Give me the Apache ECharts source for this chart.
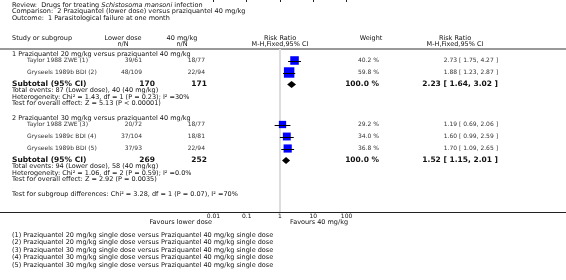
<!DOCTYPE html>
<html>
<head>
<meta charset="utf-8">
<script src="https://cdn.jsdelivr.net/npm/echarts@6/dist/echarts.min.js"></script>
<style>
  html, body { margin: 0; padding: 0; background: #fff; }
  #chart { width: 566px; height: 280px; }
</style>
</head>
<body>
<div id="chart"></div>
<script>
// --- data ---
const studyNames = ['Taylor 1988 ZWE (1)', 'Gryseels 1989b BDI (2)', 'Taylor 1988 ZWE (3)', 'Gryseels 1989c BDI (4)', 'Gryseels 1989b BDI (5)'];
const lowEvents = [39, 48, 20, 37, 37];
const lowTotal = [61, 109, 72, 104, 93];
const ctrlEvents = [18, 22, 18, 18, 22];
const ctrlTotal = [77, 94, 77, 81, 94];
const weights = [40.2, 59.8, 29.2, 34.0, 36.8];
const rr = [2.73, 1.88, 1.19, 1.60, 1.70];
const rrLow = [1.75, 1.23, 0.69, 0.99, 1.09];
const rrHigh = [4.27, 2.87, 2.06, 2.59, 2.65];

const groupTitles = ['1 Praziquantel 20 mg/kg versus praziquantel 40 mg/kg', '2 Praziquantel 30 mg/kg versus praziquantel 40 mg/kg'];
const subLowTotal = [170, 269];
const subCtrlTotal = [171, 252];
const subWeight = [100.0, 100.0];
const subRR = [2.23, 1.52];
const subLow = [1.64, 1.15];
const subHigh = [3.02, 2.01];
const subEventsLow = [87, 94];
const subEventsCtrl = [40, 58];
const hetText = ['Heterogeneity: Chi² = 1.43, df = 1 (P = 0.23); I² =30%', 'Heterogeneity: Chi² = 1.06, df = 2 (P = 0.59); I² =0.0%'];
const overallText = ['Test for overall effect: Z = 5.13 (P < 0.00001)', 'Test for overall effect: Z = 2.92 (P = 0.0035)'];
const subgroupDiff = 'Test for subgroup differences: Chi² = 3.28, df = 1 (P = 0.07), I² =70%';
const tickValues = [0.01, 0.1, 1, 10, 100];
const footnotes = [
  '(1) Praziquantel 20 mg/kg single dose versus Praziquantel 40 mg/kg single dose',
  '(2) Praziquantel 20 mg/kg single dose versus Praziquantel 40 mg/kg single dose',
  '(3) Praziquantel 30 mg/kg single dose versus Praziquantel 40 mg/kg single dose',
  '(4) Praziquantel 30 mg/kg single dose versus Praziquantel 40 mg/kg single dose',
  '(5) Praziquantel 30 mg/kg single dose versus Praziquantel 40 mg/kg single dose'
];

// --- layout (pixel rows) ---
const studyRows = [60.5, 72.5, 124.5, 136.5, 148.5];
const groupRows = [54.5, 118.3];
const subRows = [84.5, 160.5];
const AXIS_Y = 212;
const RULE_Y = 49;
const FONT = 'DejaVu Sans';
const LEFT = 12;

const fmt2 = v => v.toFixed(2);
const ciText = (m, l, h) => `${fmt2(m)} [ ${fmt2(l)}, ${fmt2(h)} ]`;

function txt(x, y, s, o) {
  o = o || {};
  return {
    type: 'text', x: x, y: y, silent: true,
    style: {
      text: s, fill: o.color || '#111', fontSize: o.size || 6.5, fontFamily: FONT,
      fontWeight: o.bold ? 'bold' : 'normal',
      align: o.align || 'left', verticalAlign: 'middle',
      textAlign: o.align || 'left', textVerticalAlign: 'middle',
      rich: o.rich
    }
  };
}

const texts = [];
// title block
texts.push(txt(LEFT, 5, 'Review:  Drugs for treating {i|Schistosoma mansoni} infection', {
  rich: { i: { fontStyle: 'italic', fontSize: 6.5, fontFamily: FONT, fill: '#111' } }
}));
texts.push(txt(LEFT, 11.5, 'Comparison:  2 Praziquantel (lower dose) versus praziquantel 40 mg/kg'));
texts.push(txt(LEFT, 18, 'Outcome:  1 Parasitological failure at one month'));

// column headers
texts.push(txt(LEFT, 38, 'Study or subgroup'));
texts.push(txt(123, 38, 'Lower dose', { align: 'center' }));
texts.push(txt(123, 44.5, 'n/N', { align: 'center' }));
texts.push(txt(182, 38, '40 mg/kg', { align: 'center' }));
texts.push(txt(182, 44.5, 'n/N', { align: 'center' }));
texts.push(txt(280, 38, 'Risk Ratio', { align: 'center' }));
texts.push(txt(280, 44.5, 'M-H,Fixed,95% CI', { align: 'center' }));
texts.push(txt(371, 38, 'Weight', { align: 'center' }));
texts.push(txt(455, 38, 'Risk Ratio', { align: 'center' }));
texts.push(txt(455, 44.5, 'M-H,Fixed,95% CI', { align: 'center' }));

// study rows
studyNames.forEach((name, i) => {
  const y = studyRows[i];
  texts.push(txt(27, y, name, { size: 6, color: '#333' }));
  texts.push(txt(142, y, `${lowEvents[i]}/${lowTotal[i]}`, { size: 6, color: '#333', align: 'right' }));
  texts.push(txt(205, y, `${ctrlEvents[i]}/${ctrlTotal[i]}`, { size: 6, color: '#333', align: 'right' }));
  texts.push(txt(379, y, `${weights[i].toFixed(1)} %`, { size: 6, color: '#333', align: 'right' }));
  texts.push(txt(498, y, ciText(rr[i], rrLow[i], rrHigh[i]), { size: 6, color: '#333', align: 'right' }));
});

// subgroup blocks
groupTitles.forEach((g, k) => {
  texts.push(txt(LEFT, groupRows[k], g));
  const y = subRows[k];
  texts.push(txt(LEFT, y, 'Subtotal (95% CI)', { bold: true, size: 7.5 }));
  texts.push(txt(155, y, String(subLowTotal[k]), { bold: true, size: 7.5, align: 'right' }));
  texts.push(txt(207, y, String(subCtrlTotal[k]), { bold: true, size: 7.5, align: 'right' }));
  texts.push(txt(379, y, `${subWeight[k].toFixed(1)} %`, { bold: true, size: 7.5, align: 'right' }));
  texts.push(txt(498, y, ciText(subRR[k], subLow[k], subHigh[k]), { bold: true, size: 7.5, align: 'right' }));
  texts.push(txt(LEFT, y + 6.3, `Total events: ${subEventsLow[k]} (Lower dose), ${subEventsCtrl[k]} (40 mg/kg)`));
  texts.push(txt(LEFT, y + 12.5, hetText[k]));
  texts.push(txt(LEFT, y + 18.7, overallText[k]));
});
texts.push(txt(LEFT, 194.5, subgroupDiff));

// favours labels
texts.push(txt(212, 222, 'Favours lower dose', { align: 'right' }));
texts.push(txt(290, 222, 'Favours 40 mg/kg'));

// footnotes
footnotes.forEach((f, i) => texts.push(txt(LEFT, 235 + i * 7.5, f)));

const rules = [
  { type: 'rect', silent: true, shape: { x: 0, y: RULE_Y - 1, width: 566, height: 2 }, style: { fill: '#999' } },
  { type: 'line', silent: true, shape: { x1: 0, y1: AXIS_Y + 0.5, x2: 566, y2: AXIS_Y + 0.5 }, style: { stroke: '#222', lineWidth: 1 } }
];

const chart = echarts.init(document.getElementById('chart'), null, { renderer: 'canvas' });

chart.setOption({
  animation: false,
  backgroundColor: '#fff',
  grid: { left: 213.4, width: 133.2, top: 0, height: AXIS_Y },
  xAxis: {
    type: 'log', logBase: 10, min: 0.01, max: 100,
    axisLine: { show: false },
    axisTick: { show: true, length: 2, lineStyle: { color: '#222' } },
    axisLabel: {
      margin: 1, fontSize: 6, fontFamily: FONT, color: '#111',
      formatter: v => String(tickValues.find(t => Math.abs(Math.log10(t) - Math.log10(v)) < 1e-6) ?? v)
    },
    splitLine: { show: false }
  },
  yAxis: { type: 'value', min: 0, max: AXIS_Y, inverse: true, show: false },
  graphic: { elements: rules.concat(texts) },
  series: [
    {
      name: 'no effect', type: 'custom', silent: true, clip: false,
      encode: { x: 0, y: [1, 2] },
      data: [[1, RULE_Y, AXIS_Y]],
      renderItem: (params, api) => {
        const a = api.coord([api.value(0), api.value(1)]);
        const b = api.coord([api.value(0), api.value(2)]);
        return { type: 'line', shape: { x1: a[0], y1: a[1], x2: b[0], y2: b[1] }, style: { stroke: '#ddd', lineWidth: 2 } };
      }
    },
    {
      name: 'studies', type: 'custom', silent: true, clip: false,
      encode: { x: [0, 1, 2], y: 4 },
      data: studyNames.map((n, i) => [rr[i], rrLow[i], rrHigh[i], weights[i], studyRows[i]]),
      renderItem: (params, api) => {
        const y = api.value(4);
        const c = api.coord([api.value(0), y]);
        const l = api.coord([api.value(1), y]);
        const h = api.coord([api.value(2), y]);
        const s = 1.35 * Math.sqrt(api.value(3));
        return {
          type: 'group', children: [
            { type: 'rect', shape: { x: c[0] - s / 2, y: c[1] - s / 2, width: s, height: s }, style: { fill: '#0000ff' } },
            { type: 'line', shape: { x1: l[0], y1: Math.round(c[1]) + 0.5, x2: h[0], y2: Math.round(c[1]) + 0.5 }, style: { stroke: '#000', lineWidth: 1 } }
          ]
        };
      }
    },
    {
      name: 'subtotals', type: 'custom', silent: true, clip: false,
      encode: { x: [0, 1, 2], y: 3 },
      data: subRR.map((v, k) => [v, subLow[k], subHigh[k], subRows[k]]),
      renderItem: (params, api) => {
        const y = api.value(3);
        const c = api.coord([api.value(0), y]);
        const l = api.coord([api.value(1), y]);
        const h = api.coord([api.value(2), y]);
        return {
          type: 'polygon',
          shape: { points: [[l[0], c[1]], [c[0], c[1] - 3.5], [h[0], c[1]], [c[0], c[1] + 3.5]] },
          style: { fill: '#000' }
        };
      }
    }
  ]
});
</script>
</body>
</html>
